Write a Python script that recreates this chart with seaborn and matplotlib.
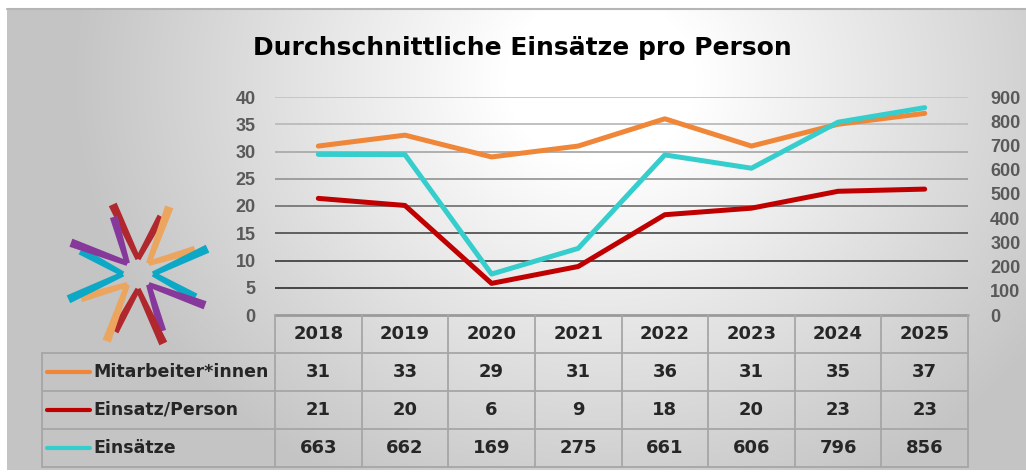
import numpy as np
import pandas as pd
import matplotlib
matplotlib.use("Agg")
import matplotlib.pyplot as plt
import seaborn as sns

years = ["2018", "2019", "2020", "2021", "2022", "2023", "2024", "2025"]
mitarbeiter = [31, 33, 29, 31, 36, 31, 35, 37]
einsatz_person = [21.4, 20.1, 5.8, 8.9, 18.4, 19.6, 22.7, 23.1]
einsaetze = [663, 662, 169, 275, 661, 606, 796, 856]

series_names = ["Mitarbeiter*innen", "Einsatz/Person", "Einsätze"]
left_ticks = [0, 5, 10, 15, 20, 25, 30, 35, 40]
right_ticks = [0, 100, 200, 300, 400, 500, 600, 700, 800, 900]

C_ORANGE = "#EF8638"
C_RED = "#C00000"
C_CYAN = "#36CDCD"
TICK_GRAY = "#595959"
TABLE_LINE = "#a6a6a6"

sns.set_style("white")
plt.rcParams["font.family"] = ["DejaVu Sans"]

W, H = 1026, 472
fig = plt.figure(figsize=(W / 100, H / 100), dpi=100)
fig.patch.set_facecolor("white")

# background panel with radial gradient (pixel coordinates)
bg = fig.add_axes([0, 0, 1, 1], zorder=-5)
bg.set_xlim(0, W)
bg.set_ylim(H, 0)
bg.axis("off")
yy, xx = np.mgrid[0:H, 0:W]
d = np.sqrt(((xx - 600) / 480.0) ** 2 + ((yy - 80) / 420.0) ** 2)
shade = 1 - 0.23 * np.clip((d - 0.2) / 0.9, 0, 1)
img = np.dstack([shade, shade, shade])
img[:9, :, :] = 1.0
img[:, :7, :] = 1.0
img[470:, :, :] = 1.0
bg.imshow(img, extent=(0, W, H, 0), aspect="auto", interpolation="bilinear")
bg.plot([7, W], [9, 9], color="#b5b5b5", lw=1.5)

# logo: eight chevrons around a centre
logo_cx, logo_cy = 138, 274
logo_arms = [(90, "#B0282E"), (45, "#EBA55E"), (0, "#0CA8C6"), (-45, "#86399A"),
             (-90, "#B0282E"), (-135, "#EBA55E"), (180, "#0CA8C6"), (135, "#86399A")]


def polar(ang, r):
    a = np.deg2rad(ang)
    return np.array([logo_cx + r * np.cos(a), logo_cy - r * np.sin(a)])


for theta, col in logo_arms:
    tip = polar(theta, 15)
    for ang, r, w_end in [(theta + 20, 74, 4.3), (theta - 22, 62, 4.0)]:
        end = polar(ang, r)
        v = end - tip
        nrm = np.array([-v[1], v[0]]) / np.linalg.norm(v)
        poly = np.array([tip + nrm * 2.6, end + nrm * w_end,
                         end - nrm * w_end, tip - nrm * 2.6])
        bg.fill(poly[:, 0], poly[:, 1], color=col, lw=0)

fig.text(522 / W, 1 - 48 / H, "Durchschnittliche Einsätze pro Person",
         ha="center", va="center", fontsize=18, fontweight="bold", color="black")

# main chart
left_px, right_px, top_px, bottom_px = 275, 968, 97, 315
ax = fig.add_axes([left_px / W, 1 - bottom_px / H, (right_px - left_px) / W,
                   (bottom_px - top_px) / H])
ax.patch.set_alpha(0)

df = pd.DataFrame({"Jahr": years, "Mitarbeiter": mitarbeiter,
                   "EinsatzPerson": einsatz_person, "Einsaetze": einsaetze})

grid_cols = ["#404040", "#3a3a3a", "#444444", "#555555", "#777777",
             "#999999", "#aaaaaa", "#bbbbbb", "#c4c4c4"]
for val, gc in zip(left_ticks, grid_cols):
    if val > 0:
        ax.axhline(val, color=gc, lw=1.3, zorder=0)

sns.lineplot(data=df, x="Jahr", y="Mitarbeiter", ax=ax, color=C_ORANGE, lw=3.6,
             solid_capstyle="round", sort=False, legend=False)
sns.lineplot(data=df, x="Jahr", y="EinsatzPerson", ax=ax, color=C_RED, lw=3.6,
             solid_capstyle="round", sort=False, legend=False)
ax.set_xlim(-0.5, len(years) - 0.5)
ax.set_ylim(0, 40)
ax.set_yticks(left_ticks)
ax.set_xticks([])
ax.set_xlabel("")
ax.set_ylabel("")
for s in ax.spines.values():
    s.set_visible(False)
ax.tick_params(axis="y", length=0, pad=14, labelsize=13, labelcolor=TICK_GRAY)
for lab in ax.get_yticklabels():
    lab.set_fontweight("bold")
    lab.set_family("Liberation Sans")

ax2 = ax.twinx()
ax2.patch.set_alpha(0)
sns.lineplot(data=df, x="Jahr", y="Einsaetze", ax=ax2, color=C_CYAN, lw=3.6,
             solid_capstyle="round", sort=False, legend=False)
ax2.set_xlim(-0.5, len(years) - 0.5)
ax2.set_ylim(0, 900)
ax2.set_yticks(right_ticks)
ax2.set_xticks([])
ax2.set_xlabel("")
ax2.set_ylabel("")
for s in ax2.spines.values():
    s.set_visible(False)
ax2.tick_params(axis="y", length=0, pad=16, labelsize=13, labelcolor=TICK_GRAY)
for lab in ax2.get_yticklabels():
    lab.set_fontweight("bold")
    lab.set_family("Liberation Sans")

# data table under the chart
tbl_left_px, tbl_bottom_px = 42, 467
unit = (right_px - left_px) / len(years)
x0 = -0.5 - (left_px - tbl_left_px) / unit
tax = fig.add_axes([tbl_left_px / W, 1 - tbl_bottom_px / H,
                    (right_px - tbl_left_px) / W, (tbl_bottom_px - bottom_px) / H])
tax.patch.set_alpha(0)
tax.set_xlim(x0, len(years) - 0.5)
tax.set_ylim(4, 0)
tax.axis("off")

n = len(years)
tax.plot([-0.5, n - 0.5], [0, 0], color="#9a9a9a", lw=2, clip_on=False)
for r in range(1, 5):
    tax.plot([x0, n - 0.5], [r, r], color=TABLE_LINE, lw=1.3, clip_on=False)
for c in range(n + 1):
    tax.plot([c - 0.5, c - 0.5], [0, 4], color=TABLE_LINE, lw=1.3, clip_on=False)
tax.plot([x0, x0], [1, 4], color=TABLE_LINE, lw=1.3, clip_on=False)

rows = [mitarbeiter, einsatz_person, einsaetze]
colors = [C_ORANGE, C_RED, C_CYAN]
for i, yr in enumerate(years):
    tax.text(i, 0.5, yr, ha="center", va="center", fontsize=13, fontweight="bold")
for r, (name, vals, col) in enumerate(zip(series_names, rows, colors), start=1):
    sx = x0 + 5 / unit
    tax.plot([sx, sx + 43 / unit], [r + 0.5, r + 0.5], color=col, lw=3,
             solid_capstyle="round")
    tax.text(x0 + 51 / unit, r + 0.5, name, ha="left", va="center",
             fontsize=12.5, fontweight="bold")
    for i, v in enumerate(vals):
        tax.text(i, r + 0.5, f"{v:.0f}", ha="center", va="center",
                 fontsize=13, fontweight="bold")

fig.savefig("out.png", dpi=100)
